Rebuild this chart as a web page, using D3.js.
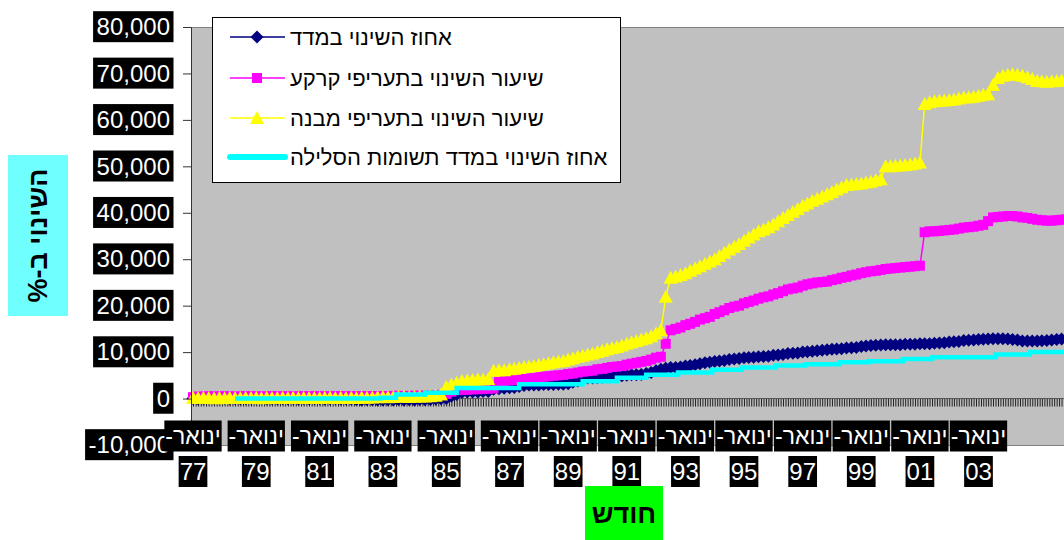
<!DOCTYPE html>
<html>
<head>
<meta charset="utf-8">
<script src="https://cdn.jsdelivr.net/npm/d3@7"></script>
<style>
  body { margin: 0; background: #fff; }
  svg { display: block; font-family: "Liberation Sans", Arial, sans-serif; }
</style>
</head>
<body>
<div id="chart"></div>
<script>
// readings every two months (Jan, Mar, May, Jul, Sep, Nov), Jan 1977 .. Jan 2006
const firstMonth = "1977-01"
const lastMonth = "2006-01"

const indexValues = [
  0, -50, 0, 50, 0, -50,               // 1977
  0, -100, 0, -50, 0, 50,              // 1978
  0, 50, -100, 0, -50, 0,              // 1979
  -50, 0, -100, 0, -50, 0,             // 1980
  0, -100, -50, 0, -100, -50,          // 1981
  -100, -200, -300, -200, -250, -300,  // 1982
  -300, -250, -300, -200, -300, -250,  // 1983
  -300, -200, -250, -200, -100, -50,   // 1984
  0, 500, 900, 1300, 1400, 1400,       // 1985
  1400, 1500, 1500, 2000, 2100, 2200,  // 1986
  2300, 2400, 2600, 2800, 2900, 2900,  // 1987
  2900, 3000, 3000, 3000, 3100, 3100,  // 1988
  3200, 3500, 3800, 4300, 4400, 4400,  // 1989
  4500, 4600, 4700, 4800, 4900, 4900,  // 1990
  5000, 5100, 5100, 5200, 5400, 5600,  // 1991
  6000, 6300, 6500, 6700, 6700, 6800,  // 1992
  7000, 7100, 7300, 7500, 7700, 7800,  // 1993
  8000, 8100, 8200, 8400, 8500, 8600,  // 1994
  8800, 8850, 8900, 9000, 9050, 9100,  // 1995
  9300, 9400, 9500, 9700, 9750, 9800,  // 1996
  10000, 10100, 10200, 10300, 10400, 10500,  // 1997
  10600, 10650, 10700, 10900, 10950, 11000,  // 1998
  11200, 11300, 11400, 11500, 11550, 11600,  // 1999
  11600, 11600, 11600, 11700, 11700, 11700,  // 2000
  11800, 11800, 11800, 11900, 11950, 12000,  // 2001
  12200, 12250, 12300, 12500, 12550, 12600,  // 2002
  12700, 12750, 12800, 12900, 12900, 12900,  // 2003
  12800, 12700, 12600, 12400, 12400, 12400,  // 2004
  12400, 12450, 12500, 12600, 12700, 12800,  // 2005
  12900                                      // 2006
]

const landValues = [
  300, 450, 400, 500, 450, 480,        // 1977
  450, 500, 400, 480, 520, 460,        // 1978
  500, 420, 480, 520, 450, 500,        // 1979
  450, 500, 430, 520, 480, 500,        // 1980
  480, 500, 450, 520, 470, 510,        // 1981
  500, 460, 520, 480, 530, 550,        // 1982
  500, 550, 580, 600, 560, 580,        // 1983
  600, 620, 600, 650, 700, 800,        // 1984
  1000, 1500, 1800, 1900, 1900, 2000,  // 1985
  2000, 2100, 2100, 2200, 3600, 3700,  // 1986
  3900, 4000, 4100, 4200, 4300, 4400,  // 1987
  4600, 4700, 4800, 4900, 5000, 5100,  // 1988
  5300, 5400, 5600, 5800, 5900, 6000,  // 1989
  6300, 6400, 6600, 6800, 6900, 7000,  // 1990
  7300, 7500, 7700, 7900, 8100, 8400,  // 1991
  8800, 9000, 11800, 14700, 15000, 15300,    // 1992
  15800, 16100, 16500, 17000, 17300, 17600,  // 1993
  18200, 18600, 19000, 19500, 19800, 20000,  // 1994
  20500, 20800, 21100, 21500, 21800, 22000,  // 1995
  22400, 22700, 23100, 23500, 23700, 23900,  // 1996
  24300, 24600, 24800, 25000, 25100, 25200,  // 1997
  25500, 25700, 26000, 26200, 26500, 26700,  // 1998
  27000, 27200, 27400, 27500, 27700, 27900,  // 1999
  28000, 28100, 28200, 28300, 28400, 28500,  // 2000
  28600, 35800, 36000, 36000, 36100, 36200,  // 2001
  36300, 36400, 36600, 36800, 36900, 37000,  // 2002
  37200, 37400, 38200, 39000, 39100, 39200,  // 2003
  39300, 39300, 39200, 39000, 38900, 38700,  // 2004
  38500, 38400, 38300, 38300, 38400, 38500,  // 2005
  38600                                      // 2006
]

const buildingValues = [
  150, 100, 200, 120, 90, 160,         // 1977
  80, 180, 130, 100, 170, 110,         // 1978
  160, 90, 200, 140, 100, 180,         // 1979
  110, 170, 120, 190, 130, 100,        // 1980
  100, 150, 210, 130, 180, 120,        // 1981
  180, 120, 220, 160, 250, 300,        // 1982
  350, 300, 330, 380, 420, 360,        // 1983
  400, 450, 420, 500, 600, 900,        // 1984
  2500, 3000, 3400, 3800, 3900, 4000,  // 1985
  4100, 4100, 4200, 6000, 6100, 6100,  // 1986
  6300, 6400, 6600, 6800, 6900, 7000,  // 1987
  7200, 7400, 7600, 7800, 8000, 8100,  // 1988
  8400, 8700, 9000, 9200, 9500, 9700,  // 1989
  10000, 10300, 10600, 10900, 11100, 11400,  // 1990
  11800, 12100, 12400, 12700, 13000, 13400,  // 1991
  14000, 14700, 21900, 26000, 26300, 26600,  // 1992
  27000, 27500, 28000, 28500, 29000, 29500,  // 1993
  30000, 30700, 31400, 32100, 32700, 33300,  // 1994
  34000, 34700, 35300, 36000, 36400, 36900,  // 1995
  37500, 38200, 38900, 39500, 40200, 40800,  // 1996
  41500, 42000, 42600, 43000, 43500, 44000,  // 1997
  44500, 45000, 45500, 46000, 46100, 46200,  // 1998
  46300, 46500, 46700, 47000, 47200, 50000,  // 1999
  50000, 50100, 50200, 50300, 50400, 50600,  // 2000
  50800, 63400, 63800, 64000, 64100, 64200,  // 2001
  64300, 64400, 64600, 64800, 64900, 65000,  // 2002
  65200, 65400, 65500, 67500, 69000, 69500,  // 2003
  69700, 69800, 69700, 69500, 69200, 68800,  // 2004
  68400, 68300, 68200, 68300, 68400, 68500,  // 2005
  68600                                      // 2006
]

// paving index moves in steps: month of each change and the new level
const pavingMonths = ["1978-05", "1982-12", "1983-06", "1984-05", "1985-05", "1987-05", "1989-07",
  "1990-09", "1991-09", "1992-10", "1993-12", "1994-12", "1996-02", "1997-02", "1998-04",
  "1999-04", "2000-06", "2001-06", "2003-08", "2004-10", "2006-01"]
const pavingValues = [0, 200, 900, 1250, 2250, 3100, 3700, 4500, 5100, 5600, 6200, 6700, 7100,
  7400, 7800, 8050, 8500, 8900, 9500, 10000, 10000]

const yTicks = [80000, 70000, 60000, 50000, 40000, 30000, 20000, 10000, 0, -10000]
const labelMonths = ["1977-01", "1979-01", "1981-01", "1983-01", "1985-01", "1987-01", "1989-01",
  "1991-01", "1993-01", "1995-01", "1997-01", "1999-01", "2001-01", "2003-01"]
const labelYears = ["77", "79", "81", "83", "85", "87", "89", "91", "93", "95", "97", "99", "01", "03"]

const seriesNames = ["אחוז השינוי במדד", "שיעור השינוי בתעריפי קרקע",
  "שיעור השינוי בתעריפי מבנה", "אחוז השינוי במדד תשומות הסלילה"]

const width = 1064, height = 540
const plot = {left: 191, top: 27, right: 1075, bottom: 445}

const parse = d3.timeParse("%Y-%m")
const months = d3.timeMonth.every(2).range(parse(firstMonth), d3.timeMonth.offset(parse(lastMonth), 1))

const svg = d3.select("#chart").append("svg")
    .attr("width", width)
    .attr("height", height)

// the category spacing is a bit wider before 1987 than after
const x = d3.scaleTime()
    .domain([parse("1977-01"), parse("1987-01"), parse("2003-01")])
    .range([193, 509.5, 978.5])

const y = d3.scaleLinear()
    .domain([-10000, 80000])
    .range([plot.bottom, plot.top])

svg.append("rect")
    .attr("x", plot.left + 0.5)
    .attr("y", plot.top + 0.5)
    .attr("width", plot.right - plot.left)
    .attr("height", plot.bottom - plot.top)
    .attr("fill", "#c0c0c0")
    .attr("stroke", "#808080")

// category axis crosses at zero, one tick per month
const monthTicks = d3.timeMonth.range(parse(firstMonth), d3.timeMonth.offset(parse(lastMonth), 2))
const xAxis = svg.append("g")
    .attr("transform", "translate(0," + y(0) + ")")
    .call(d3.axisBottom(x).tickValues(monthTicks).tickFormat("").tickSize(8).tickSizeOuter(0))
xAxis.select(".domain").remove()
xAxis.selectAll(".tick line").attr("stroke", "#222")
xAxis.append("line")
    .attr("x1", plot.left).attr("x2", width)
    .attr("stroke", "#555")

function blackBox(sel, padX, padY) {
  sel.each(function() {
    const b = this.getBBox()
    d3.select(this.parentNode).insert("rect", () => this)
        .attr("x", b.x - padX)
        .attr("y", b.y - padY)
        .attr("width", b.width + 2 * padX)
        .attr("height", b.height + 2 * padY)
        .attr("fill", "#000")
  })
}

// marker shapes
const diamond = "M0,-6.5L6.5,0L0,6.5L-6.5,0Z"
const square = "M-5,-5H5V5H-5Z"
const triangle = "M0,-7L7,6L-7,6Z"

const line = d3.line()
    .x(d => x(d.date))
    .y(d => y(d.value))

function drawSeries(values, color, shape) {
  const data = months.map((date, i) => ({date: date, value: values[i]}))
  const g = svg.append("g")
  g.append("path")
      .datum(data)
      .attr("d", line)
      .attr("fill", "none")
      .attr("stroke", color)
      .attr("stroke-width", 1.5)
  g.selectAll("path.mark")
      .data(data)
      .enter()
      .append("path")
      .attr("class", "mark")
      .attr("d", shape)
      .attr("transform", d => "translate(" + x(d.date) + "," + y(d.value) + ")")
      .attr("fill", color)
}

drawSeries(indexValues, "#000080", diamond)
drawSeries(landValues, "#ff00ff", square)
drawSeries(buildingValues, "#ffff00", triangle)

const pavingData = pavingMonths.map((m, i) => ({date: parse(m), value: pavingValues[i]}))
svg.append("path")
    .datum(pavingData)
    .attr("d", line.curve(d3.curveStepAfter))
    .attr("fill", "none")
    .attr("stroke", "#00ffff")
    .attr("stroke-width", 4.5)

// legend
const legend = svg.append("g")
legend.append("rect")
    .attr("x", 212.5).attr("y", 17.5)
    .attr("width", 408).attr("height", 165)
    .attr("fill", "#fff")
    .attr("stroke", "#000")

const legendColors = ["#000080", "#ff00ff", "#ffff00", "#00ffff"]
const legendShapes = [diamond, square, triangle, null]
const legendRows = [37, 78, 118, 157]

seriesNames.forEach((name, i) => {
  const row = legend.append("g").attr("transform", "translate(0," + legendRows[i] + ")")
  row.append("line")
      .attr("x1", 230).attr("x2", 285)
      .attr("stroke", legendColors[i])
      .attr("stroke-width", i == 3 ? 6 : 1.5)
      .attr("stroke-linecap", i == 3 ? "round" : "butt")
  if (legendShapes[i]) {
    row.append("path")
        .attr("d", legendShapes[i])
        .attr("transform", "translate(257,0)")
        .attr("fill", legendColors[i])
  }
  row.append("text")
      .attr("x", 290)
      .attr("dy", "0.35em")
      .attr("font-size", 22)
      .attr("fill", "#000")
      .text(name)
})

// value axis
const yAxis = svg.append("g")
    .attr("transform", "translate(" + plot.left + ",0)")
    .call(d3.axisLeft(y)
        .tickValues(yTicks)
        .tickSize(8)
        .tickPadding(13)
        .tickFormat(d => d3.format(",")(d).replace("\u2212", "-")))
yAxis.select(".domain").attr("stroke", "#333")
yAxis.selectAll(".tick line").attr("stroke", "#333")
yAxis.selectAll(".tick text")
    .attr("font-size", 24)
    .attr("font-family", "\"Liberation Sans\", Arial, sans-serif")
    .attr("fill", "#fff")
    .call(blackBox, 3.5, 2)

// category labels, two lines each
const labels = svg.append("g")
labelMonths.forEach((m, i) => {
  const cx = x(parse(m))
  const top = labels.append("text")
      .attr("x", cx).attr("y", 444)
      .attr("text-anchor", "middle")
      .attr("direction", "rtl")
      .attr("font-size", 23)
      .attr("fill", "#fff")
      .text("ינואר-")
  blackBox(top, 1, 2.5)
  const bottom = labels.append("text")
      .attr("x", cx).attr("y", 480)
      .attr("text-anchor", "middle")
      .attr("font-size", 24)
      .attr("fill", "#fff")
      .text(labelYears[i])
  blackBox(bottom, 1, 2)
})

// axis titles
svg.append("rect")
    .attr("x", 8).attr("y", 155)
    .attr("width", 60).attr("height", 161)
    .attr("fill", "#70ffff")
svg.append("text")
    .attr("transform", "translate(38,235.5) rotate(-90)")
    .attr("text-anchor", "middle")
    .attr("direction", "rtl")
    .attr("dy", "0.35em")
    .attr("font-size", 27)
    .attr("font-weight", "bold")
    .text("השינוי ב-%")

svg.append("rect")
    .attr("x", 585).attr("y", 486)
    .attr("width", 78).attr("height", 54)
    .attr("fill", "#00ff00")
svg.append("text")
    .attr("x", 624).attr("y", 514)
    .attr("text-anchor", "middle")
    .attr("dy", "0.35em")
    .attr("font-size", 27)
    .attr("font-weight", "bold")
    .text("חודש")
</script>
</body>
</html>
